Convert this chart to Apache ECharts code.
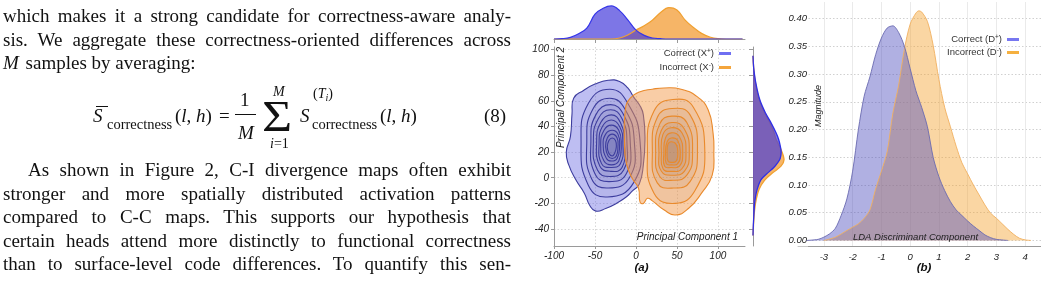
<!DOCTYPE html>
<html>
<head>
<meta charset="utf-8">
<title>Figure 2 - PCA / LDA</title>
<script src="https://cdn.jsdelivr.net/npm/echarts@6.0.0/dist/echarts.min.js"></script>
<style>
  html, body { margin: 0; padding: 0; background: #fff; }
  #page { position: relative; width: 1041px; height: 284px; overflow: hidden; }
  #chart { position: absolute; left: 0; top: 0; width: 1041px; height: 284px; }
  .ln, .m { position: absolute; font-family: "Liberation Serif", "Times New Roman", serif; color: #111; z-index: 2; }
  .ln { left: 3px; width: 508px; font-size: 19px; line-height: 21px; text-align: justify; text-align-last: justify; }
  .m { white-space: nowrap; line-height: 1; font-size: 19px; }
  .bar { position: absolute; border-top: 1.2px solid #111; height: 0; z-index: 2; }
</style>
</head>
<body>
<div id="page">
  <div id="chart"></div>

  <!-- paper text left of the figure -->
  <div class="ln" style="top:5px">which makes it a strong candidate for correctness-aware analy-</div>
  <div class="ln" style="top:28.5px">sis. We aggregate these correctness-oriented differences across</div>
  <div class="ln" style="top:52px;text-align-last:left"><i>M</i><span style="margin-left:2px"> samples by averaging:</span></div>

  <div class="m" style="left:93px;top:105.8px"><i>S</i></div>
  <div class="bar" style="left:96px;top:105.5px;width:12px"></div>
  <div class="m" style="left:107px;top:116.5px;font-size:14.5px">correctness</div>
  <div class="m" style="left:175px;top:105.8px">(<i>l</i>, <i>h</i>)</div>
  <div class="m" style="left:219px;top:105.8px">=</div>
  <div class="m" style="left:240px;top:90.1px">1</div>
  <div class="bar" style="left:235px;top:114px;width:21px;border-top-width:1px"></div>
  <div class="m" style="left:238px;top:123.1px"><i>M</i></div>
  <div class="m" style="left:262px;top:94.3px;font-size:45px;transform:scaleX(1.15);transform-origin:left top">&Sigma;</div>
  <div class="m" style="left:273px;top:85.3px;font-size:14px"><i>M</i></div>
  <div class="m" style="left:270px;top:137.3px;font-size:14px"><i>i</i>=1</div>
  <div class="m" style="left:300px;top:105.8px"><i>S</i></div>
  <div class="m" style="left:313px;top:87.3px;font-size:14px">(<i>T</i><span style="font-size:10px;position:relative;top:3px"><i>i</i></span>)</div>
  <div class="m" style="left:312px;top:116.5px;font-size:14.5px">correctness</div>
  <div class="m" style="left:380px;top:105.8px">(<i>l</i>, <i>h</i>)</div>
  <div class="m" style="left:484px;top:105.8px">(8)</div>

  <div class="ln" style="top:159.4px;text-indent:25px">As shown in Figure 2, C-I divergence maps often exhibit</div>
  <div class="ln" style="top:182.8px">stronger and more spatially distributed activation patterns</div>
  <div class="ln" style="top:206.2px">compared to C-C maps. This supports our hypothesis that</div>
  <div class="ln" style="top:229.6px">certain heads attend more distinctly to functional correctness</div>
  <div class="ln" style="top:253px">than to surface-level code differences. To quantify this sen-</div>
</div>

<script>
  // ---- (a) PCA panel: ticks
  const pcTicksX = [-100, -50, 0, 50, 100];
  const pcTicksY = [-40, -20, 0, 20, 40, 60, 80, 100];

  // KDE contours, [PC1, PC2]; first ring is the outer filled level
  const correctRings = [
    [[-34,76],[-20,75],[-10,70],[-3,63],[5,56],[9,49],[11,30],[9,10],[4,-5],[-4,-10],[-12,-15],[-24,-20],[-37,-24],[-49,-26],[-56,-22],[-63,-12],[-73,-2],[-82,10],[-85,20],[-80,32],[-78,50],[-76,62],[-64,68],[-50,73]],
    [[-32,69],[-10,58],[5,28],[-3,-4],[-35,-15],[-58,-6],[-67,28],[-58,58]],
    [[-32,62],[-13,53],[-2,28],[-8,0],[-34,-8],[-54,-1],[-60,28],[-53,53]],
    [[-31,57],[-15,49],[-7,28],[-12,3],[-33,-3],[-50,3],[-55,28],[-49,49]],
    [[-31,53],[-17,46],[-11,27],[-15,6],[-32,1],[-47,6],[-52,28],[-46,46]],
    [[-30,49],[-19,43],[-14,27],[-17,8],[-31,5],[-44,9],[-48,28],[-43,43]],
    [[-30,45],[-20,40],[-16,27],[-19,11],[-31,8],[-42,11],[-45,27],[-41,40]],
    [[-30,41],[-21,37],[-18,26],[-21,13],[-30,10],[-39,13],[-43,26],[-39,37]],
    [[-29,37],[-22,34],[-20,25],[-23,15],[-30,13],[-36,15],[-40,25],[-37,34]],
    [[-29,34],[-23,31],[-22,24],[-24,17],[-29,15],[-34,17],[-37,24],[-35,31]],
    [[-29,31],[-25,29],[-24,24],[-26,19],[-29,17],[-33,19],[-35,24],[-33,29]]
  ];
  const incorrectRings = [
    [[34,70],[55,69],[75,63],[88,53],[94,35],[95,20],[93,2],[80,-12],[64,-24],[48,-29],[34,-25],[20,-18],[14,-16],[9,-20],[5,-19],[3,-8],[-5,0],[-12,12],[-14,28],[-13,53],[-7,62],[5,67],[20,69]],
    [[45,61],[70,55],[84,20],[72,-10],[48,-20],[22,-12],[14,20],[22,52]],
    [[44,54],[66,49],[75,20],[66,-3],[46,-8],[26,-4],[20,20],[26,47]],
    [[44,48],[62,43],[69,19],[62,2],[45,-2],[29,1],[24,19],[29,42]],
    [[44,43],[59,38],[65,19],[59,5],[44,2],[31,5],[28,19],[31,37]],
    [[43,39],[56,35],[61,19],[56,7],[43,5],[33,7],[31,19],[33,34]],
    [[43,35],[53,32],[57,19],[53,9],[43,8],[35,9],[34,19],[36,31]],
    [[43,31],[51,29],[54,19],[51,11],[43,10],[37,11],[36,19],[38,28]],
    [[43,28],[49,26],[51,19],[49,13],[43,12],[39,13],[38,19],[39,26]]
  ];

  // top marginal density of PC1 (relative height)
  const topX = [-100,-90,-80,-70,-60,-50,-40,-30,-20,-10,0,10,20,30,40,50,60,70,80,90,100,110,120,130];
  const topCorrect = [0,0.01,0.05,0.16,0.33,0.75,0.93,1.0,0.86,0.58,0.27,0.11,0.03,0.01,0,0,0,0,0,0,0,0,0,0];
  const topIncorrect = [0,0,0,0,0,0,0,0,0.03,0.12,0.27,0.4,0.57,0.8,0.95,0.88,0.57,0.35,0.17,0.06,0.01,0,0,0];

  // right marginal density of PC2
  const sideCorrectY = [95,86,75,61,50,43,35,30,25,20,15,12,8,4,0,-2,-6,-12,-20,-28,-37,-45];
  const sideCorrect = [0,0.02,0.08,0.21,0.4,0.56,0.72,0.8,0.85,0.88,0.85,0.78,0.65,0.47,0.3,0.24,0.17,0.1,0.05,0.03,0.01,0];
  const sideIncorrectY = [95,86,75,61,50,43,35,30,22,14,9,4,-2,-9,-17,-25,-35,-45];
  const sideIncorrect = [0,0.02,0.07,0.19,0.37,0.52,0.66,0.72,0.875,0.97,0.875,0.625,0.36,0.19,0.1,0.05,0.02,0];

  // ---- (b) LDA panel
  const ldaTicksX = [-3, -2, -1, 0, 1, 2, 3, 4];
  const ldaTicksY = [0, 0.05, 0.1, 0.15, 0.2, 0.25, 0.3, 0.35, 0.4];
  const ldaCorrectX = [-3.6,-3.2,-3.0,-2.8,-2.6,-2.4,-2.2,-2.0,-1.8,-1.6,-1.4,-1.2,-1.0,-0.8,-0.6,-0.4,-0.2,0,0.2,0.4,0.6,0.8,1.0,1.2,1.4,1.6,1.8,2.0,2.2,2.4,2.6,2.8,3.0,3.4];
  const ldaCorrect = [0,0.002,0.006,0.012,0.022,0.045,0.075,0.125,0.2,0.26,0.295,0.335,0.365,0.383,0.387,0.375,0.35,0.31,0.27,0.24,0.205,0.15,0.115,0.09,0.07,0.055,0.045,0.035,0.026,0.018,0.01,0.005,0.002,0];
  const ldaIncorrectX = [-3.0,-2.6,-2.2,-2.0,-1.8,-1.6,-1.4,-1.2,-1.0,-0.8,-0.6,-0.4,-0.2,0,0.2,0.3,0.4,0.6,0.8,1.0,1.2,1.4,1.6,1.8,2.0,2.2,2.4,2.6,2.8,3.0,3.2,3.4,3.6,3.8,4.0,4.2];
  const ldaIncorrect = [0,0.006,0.018,0.024,0.03,0.04,0.055,0.093,0.125,0.16,0.23,0.28,0.345,0.39,0.41,0.414,0.412,0.395,0.352,0.29,0.24,0.205,0.17,0.14,0.12,0.1,0.082,0.064,0.049,0.04,0.03,0.02,0.011,0.004,0.001,0];

  const chart = echarts.init(document.getElementById('chart'));

  const tickFont = { fontFamily: 'Liberation Sans', fontStyle: 'italic', fontSize: 10, color: '#222' };
  const axisGrey = { color: '#9a9a9a', width: 1 };
  const dotted = { show: true, lineStyle: { color: '#cdcdcd', type: [1.5, 2], width: 0.8 } };
  const labelFont = 'italic 10px "Liberation Sans", Arial, sans-serif';

  const zip = (xs, ys) => xs.map((x, i) => [x, ys[i]]);

  // bounding box, so the smoothed outline never leaves the axis side
  function bbox(pts) {
    const xs = pts.map(p => p[0]), ys = pts.map(p => p[1]);
    return [[Math.min(...xs), Math.min(...ys)], [Math.max(...xs), Math.max(...ys)]];
  }

  function contourSeries(name, rings, outerFill, innerFill, stroke) {
    return {
      name: name,
      type: 'custom',
      xAxisIndex: 0,
      yAxisIndex: 0,
      clip: true,
      data: rings.map(r => r[0]),
      renderItem: function (params, api) {
        const pts = rings[params.dataIndex].map(p => api.coord(p));
        return {
          type: 'polygon',
          shape: { points: pts, smooth: 0.5 },
          style: { fill: params.dataIndex === 0 ? outerFill : innerFill, stroke: stroke, lineWidth: 1.1 }
        };
      }
    };
  }

  function sideSeries(name, ys, vals, fill, stroke) {
    return {
      name: name,
      type: 'custom',
      xAxisIndex: 2,
      yAxisIndex: 2,
      data: [[0, ys[0]]],
      renderItem: function (params, api) {
        const pts = ys.map((y, i) => api.coord([vals[i], y]));
        const box = bbox(pts);
        return {
          type: 'group',
          children: [
            { type: 'polygon', shape: { points: pts, smooth: 0.35, smoothConstraint: box }, style: { fill: fill } },
            { type: 'polyline', shape: { points: pts, smooth: 0.35, smoothConstraint: box }, style: { stroke: stroke, lineWidth: 1.3, fill: null } }
          ]
        };
      }
    };
  }

  function legendText(name) {
    return name.replace(/\((\w)([+-])\)/, (m, a, s) => '(' + a + '{sup|' + s + '})');
  }
  const legendStyle = {
    fontFamily: 'Liberation Sans', fontSize: 9.5, color: '#333',
    rich: { sup: { fontFamily: 'Liberation Sans', fontSize: 6.5, color: '#333', verticalAlign: 'top', padding: [0, 0, 4, 0] } }
  };

  chart.setOption({
    backgroundColor: '#fff',
    animation: false,
    grid: [
      { left: 554, top: 47, width: 191, height: 199 },   // (a) main
      { left: 554, top: 3, width: 191, height: 36 },     // (a) top marginal
      { left: 753, top: 47, width: 35, height: 199 },    // (a) right marginal
      { left: 798, top: 2, width: 243, height: 244 }     // (b)
    ],
    xAxis: [
      { gridIndex: 0, type: 'value', min: -100, max: 133,
        axisLine: { onZero: false, lineStyle: axisGrey },
        axisTick: { length: 3, customValues: pcTicksX, lineStyle: axisGrey },
        axisLabel: Object.assign({ margin: 5, customValues: pcTicksX }, tickFont),
        splitLine: dotted },
      { gridIndex: 1, type: 'value', min: -100, max: 133,
        axisLine: { onZero: false, lineStyle: axisGrey },
        axisTick: { length: 4, customValues: pcTicksX, lineStyle: axisGrey },
        axisLabel: { show: false }, splitLine: { show: false } },
      { gridIndex: 2, type: 'value', min: 0, max: 1.094, show: false },
      { gridIndex: 3, type: 'value', min: -3.9, max: 4.55,
        axisLine: { onZero: false, lineStyle: axisGrey },
        axisTick: { show: false, customValues: ldaTicksX },
        axisLabel: Object.assign({ margin: 6, customValues: ldaTicksX }, tickFont, { fontSize: 9.5 }),
        splitLine: { show: true, lineStyle: { color: '#e4e4e4', width: 0.8 } } }
    ],
    yAxis: [
      { gridIndex: 0, type: 'value', min: -53.2, max: 101.9,
        axisLine: { show: true, onZero: false, lineStyle: axisGrey },
        axisTick: { show: true, length: 3, customValues: pcTicksY, lineStyle: axisGrey },
        axisLabel: Object.assign({ margin: 5, customValues: pcTicksY }, tickFont),
        splitLine: dotted },
      { gridIndex: 1, type: 'value', min: 0, max: 1.09, show: false },
      { gridIndex: 2, type: 'value', min: -53.2, max: 101.9,
        axisLine: { show: true, onZero: false, lineStyle: axisGrey },
        axisTick: { show: true, length: 4, customValues: pcTicksY, lineStyle: axisGrey },
        axisLabel: { show: false }, splitLine: { show: false } },
      { gridIndex: 3, type: 'value', min: -0.01, max: 0.43, offset: -14,
        axisLine: { show: false }, axisTick: { show: false, customValues: ldaTicksY },
        axisLabel: Object.assign({ margin: 4, customValues: ldaTicksY, backgroundColor: '#fff', padding: [1, 1],
          formatter: v => v.toFixed(2) }, tickFont, { fontSize: 9.5 }),
        splitLine: { show: true, lineStyle: { color: '#c4c4c4', type: [1.5, 2], width: 0.8 } } }
    ],
    legend: [
      { data: [
          { name: 'Correct (X+)', icon: 'rect', itemStyle: { color: '#6f6ff2', borderWidth: 0 } },
          { name: 'Incorrect (X-)', icon: 'rect', itemStyle: { color: '#f4a53c', borderWidth: 0 } }
        ],
        orient: 'vertical', right: 310, top: 48, align: 'right', padding: 0,
        itemWidth: 12, itemHeight: 3, itemGap: 3.5, selectedMode: false,
        formatter: legendText, textStyle: legendStyle },
      { data: [
          { name: 'Correct (D+)', icon: 'rect', itemStyle: { color: '#7777f0', borderWidth: 0 } },
          { name: 'Incorrect (D-)', icon: 'rect', itemStyle: { color: '#f5b040', borderWidth: 0 } }
        ],
        orient: 'vertical', right: 22, top: 34, align: 'right', padding: 0,
        itemWidth: 12, itemHeight: 3, itemGap: 2.5, selectedMode: false,
        formatter: legendText, textStyle: legendStyle }
    ],
    graphic: [
      { type: 'text', x: 561, y: 97.5, rotation: Math.PI / 2, z: 50,
        style: { text: 'Principal Component 2', font: labelFont, fill: '#222', align: 'center', verticalAlign: 'middle' } },
      { type: 'text', x: 738, y: 237.5, z: 50,
        style: { text: 'Principal Component 1', font: labelFont, fill: '#222', align: 'right', verticalAlign: 'middle' } },
      { type: 'text', x: 641.5, y: 267.5, z: 50,
        style: { text: '(a)', font: 'italic bold 11.5px "Liberation Sans", Arial, sans-serif', fill: '#111', align: 'center', verticalAlign: 'middle' } },
      { type: 'text', x: 818.5, y: 106, rotation: Math.PI / 2, z: 50,
        style: { text: 'Magnitude', font: 'italic 9px "Liberation Sans", Arial, sans-serif', fill: '#222', align: 'center', verticalAlign: 'middle' } },
      { type: 'text', x: 915.5, y: 237.8, z: 50,
        style: { text: 'LDA Discriminant Component', font: 'italic 9.5px "Liberation Sans", Arial, sans-serif', fill: '#222', align: 'center', verticalAlign: 'middle' } },
      { type: 'text', x: 924, y: 267.5, z: 50,
        style: { text: '(b)', font: 'italic bold 11.5px "Liberation Sans", Arial, sans-serif', fill: '#111', align: 'center', verticalAlign: 'middle' } }
    ],
    series: [
      contourSeries('Correct (X+)', correctRings, 'rgba(100,100,225,0.42)', 'rgba(90,90,150,0.07)', '#3d3d9e'),
      contourSeries('Incorrect (X-)', incorrectRings, 'rgba(242,150,70,0.48)', 'rgba(150,110,90,0.09)', '#e98a2c'),

      { name: 'Incorrect (X-)', type: 'line', xAxisIndex: 1, yAxisIndex: 1, data: zip(topX, topIncorrect),
        smooth: 0.4, symbol: 'none', lineStyle: { color: '#f0a030', width: 1.2 },
        areaStyle: { color: 'rgba(243,160,60,0.78)', opacity: 1 } },
      { name: 'Correct (X+)', type: 'line', xAxisIndex: 1, yAxisIndex: 1, data: zip(topX, topCorrect),
        smooth: 0.4, symbol: 'none', lineStyle: { color: '#3535e8', width: 1.2 },
        areaStyle: { color: 'rgba(70,60,220,0.7)', opacity: 1 } },

      sideSeries('Incorrect (X-)', sideIncorrectY, sideIncorrect, 'rgba(243,160,60,0.78)', '#f0a030'),
      sideSeries('Correct (X+)', sideCorrectY, sideCorrect, 'rgba(70,60,220,0.7)', '#2f2fe6'),

      { name: 'Incorrect (D-)', type: 'line', xAxisIndex: 3, yAxisIndex: 3, data: zip(ldaIncorrectX, ldaIncorrect),
        smooth: 0.3, symbol: 'none', lineStyle: { color: '#f0b060', width: 0.9 },
        areaStyle: { color: 'rgba(245,165,50,0.45)', opacity: 1 } },
      { name: 'Correct (D+)', type: 'line', xAxisIndex: 3, yAxisIndex: 3, data: zip(ldaCorrectX, ldaCorrect),
        smooth: 0.3, symbol: 'none', lineStyle: { color: '#6a6ab0', width: 0.9 },
        areaStyle: { color: 'rgba(80,80,190,0.45)', opacity: 1 } }
    ]
  });
</script>
</body>
</html>
